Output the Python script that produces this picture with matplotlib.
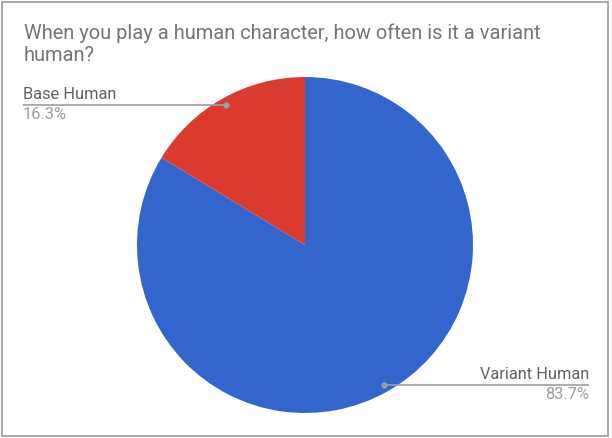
import matplotlib
matplotlib.use("Agg")
import matplotlib.pyplot as plt
import numpy as np

# data
labels = ["Variant Human", "Base Human"]
shares = [83.7, 16.3]
colors = ["#3366cc", "#db3b2e"]
title = "When you play a human character, how often is it a variant\nhuman?"

W, H = 612, 438
fig = plt.figure(figsize=(W / 100, H / 100), dpi=100)
ax = fig.add_axes([0, 0, 1, 1])
plt.rcParams["font.family"] = ["Roboto", "DejaVu Sans"]

# pie, drawn clockwise from 12 o'clock
cx, cy, R = 305, H - 245, 168
ax.pie(shares, colors=colors, startangle=90, counterclock=False,
       center=(cx, cy), radius=R, frame=True,
       wedgeprops=dict(linewidth=0))
ax.set_xlim(0, W)
ax.set_ylim(0, H)
ax.set_aspect("equal")
ax.axis("off")

# leader lines with labels
total = sum(shares)
start = 90.0
for lab, val in zip(labels, shares):
    span = 360 * val / total
    mid = np.radians(start - span / 2)
    start -= span
    px = cx + 0.955 * R * np.cos(mid)
    py = cy + 0.955 * R * np.sin(mid)
    if np.cos(mid) < 0:
        xend, ha = 23, "left"
    else:
        xend, ha = 589, "right"
    ax.plot([px, xend], [py, py], color="#9e9e9e", lw=1.2, solid_capstyle="butt")
    ax.plot(px, py, "o", color="#9e9e9e", ms=3.5)
    ax.text(xend, py + 3, lab, ha=ha, va="bottom", fontsize=11.8, color="#616161")
    ax.text(xend, py - 2, f"{val}%", ha=ha, va="top", fontsize=11.8, color="#9e9e9e")

# title
ax.text(24, H - 23, title, ha="left", va="top", fontsize=14.4, color="#757575",
        linespacing=1.2)

# chart border
ax.add_patch(plt.Rectangle((1.5, 2), 606.5, 434.5, fill=False, edgecolor="#999999", lw=1.2))

fig.savefig("out.png", dpi=100)
